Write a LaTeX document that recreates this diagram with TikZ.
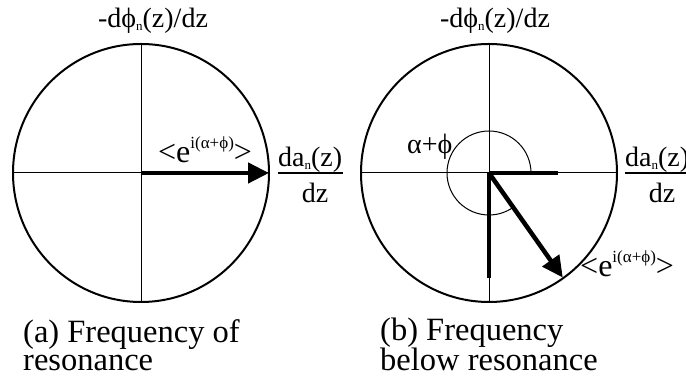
\documentclass[tikz,border=0pt]{standalone}
\usepackage{fontspec}
\setmainfont{Liberation Serif}
\usetikzlibrary{arrows.meta, calc}
\newcommand{\lsub}[1]{\raisebox{-2.5pt}{\fontsize{13}{13}\selectfont #1}}
\newcommand{\lsup}[1]{\raisebox{14pt}{\fontsize{17}{17}\selectfont #1}}

\begin{document}
\begin{tikzpicture}[x=1pt, y=1pt,
    ring/.style={line width=2pt},
    axisline/.style={line width=1pt},
    vec/.style={line width=4.5pt, -{Triangle[length=21pt, width=20pt]}},
    thickbar/.style={line width=4.5pt},
    lbl/.style={inner sep=0pt, font=\fontsize{28}{30}\selectfont},
    phase/.style={inner sep=0pt, font=\fontsize{32}{34}\selectfont},
    capt/.style={inner sep=0pt, align=left, font=\fontsize{32.5}{28.5}\selectfont}
]
\useasboundingbox (0,0) rectangle (686,379);

% Centres and axis ends
\coordinate (ca) at (141,206);
\coordinate (cb) at (489,206);
\foreach \c in {a,b} {
  \coordinate (l\c) at ($(c\c)+(-128,0)$);
  \coordinate (r\c) at ($(c\c)+(128,0)$);
  \coordinate (t\c) at ($(c\c)+(0,129)$);
  \coordinate (d\c) at ($(c\c)+(0,-129)$);
}

% Circles and axes
\foreach \c in {a,b} {
  \draw[ring] (c\c) circle[x radius=128, y radius=129];
  \draw[axisline] (l\c) -- (r\c);
  \draw[axisline] (t\c) -- (d\c);
}

% (a) at resonance
\coordinate (ea) at (269,206);
\draw[vec] (ca) -- (ea);

% (b) below resonance
\coordinate (hb) at (558,206);
\coordinate (vb) at (489,101);
\coordinate (eb) at ($(cb)+(-54.8:128)$);
\draw[thickbar] (cb) -- (hb);
\draw[thickbar] (cb) -- (vb);
\draw[vec] (cb) -- (eb);
\draw[axisline] ($(cb)+(42,0)$) arc[start angle=0, end angle=305, radius=42];

% Axis labels
\node[lbl, anchor=base] (ya) at (153,351) {-dϕ\lsub{n}(z)/dz};
\node[lbl, anchor=base] (yb) at (495,351) {-dϕ\lsub{n}(z)/dz};

\node[lbl, anchor=base west] (na) at (278,212) {da\lsub{n}(z)};
\node[lbl, anchor=base] (da) at (315,176) {dz};
\draw[line width=1.3pt] (278,206) -- (343,206);

\node[lbl, anchor=base west] (nb) at (625,212) {da\lsub{n}(z)};
\node[lbl, anchor=base] (db) at (662,176) {dz};
\draw[line width=1.3pt] (625,206) -- (690,206);

% Phasor labels
\node[phase, anchor=base west] (pa) at (158,216) {<e\lsup{i(α+ϕ)}>};
\node[phase, anchor=base west] (pb) at (580,102) {<e\lsup{i(α+ϕ)}>};
\node[lbl, anchor=base west] (ang) at (407,225) {α+ϕ};

% Captions
\node[capt, anchor=base west] (capa) at (23,8) {(a) Frequency of\\resonance};
\node[capt, anchor=base west] (capb) at (380,8) {(b) Frequency\\below resonance};

\end{tikzpicture}
\end{document}
